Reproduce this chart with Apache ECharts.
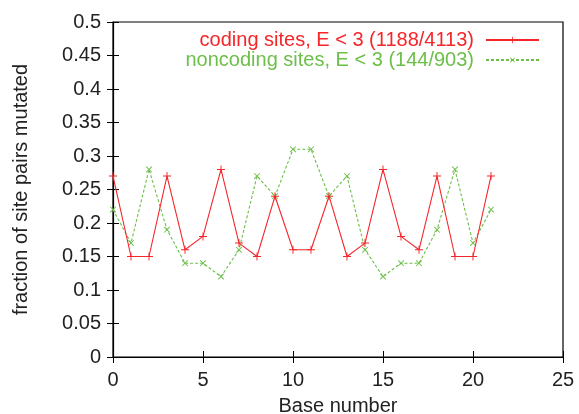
<!DOCTYPE html>
<html>
<head>
<meta charset="utf-8">
<script src="https://cdn.jsdelivr.net/npm/echarts@6/dist/echarts.min.js"></script>
<style>
  html, body { margin: 0; padding: 0; background: #fff; }
  #chart { width: 579px; height: 414px; }
</style>
</head>
<body>
<div id="chart"></div>
<script>
// Base positions along the site pair
const baseNumbers = [0, 1, 2, 3, 4, 5, 6, 7, 8, 9, 10, 11, 12, 13, 14, 15, 16, 17, 18, 19, 20, 21];

// Fraction of site pairs mutated
const codingValues = [0.27, 0.15, 0.15, 0.27, 0.16, 0.18, 0.28, 0.17, 0.15, 0.24, 0.16,
                      0.16, 0.24, 0.15, 0.17, 0.28, 0.18, 0.16, 0.27, 0.15, 0.15, 0.27];
const noncodingValues = [0.22, 0.17, 0.28, 0.19, 0.14, 0.14, 0.12, 0.16, 0.27, 0.24, 0.31,
                         0.31, 0.24, 0.27, 0.16, 0.12, 0.14, 0.14, 0.19, 0.28, 0.17, 0.22];

const codingName = 'coding sites, E < 3 (1188/4113)';
const noncodingName = 'noncoding sites, E < 3 (144/903)';

const RED = '#f5262a';
const GREEN = '#6cbf48';
const FONT = 'Liberation Sans, Arial, Helvetica, sans-serif';
const FS = 20;

// a "+" made of two thin bars; rotated 45 degrees it becomes an "x"
const plusPath = 'path://M0,4.4h10v1.2h-10z M4.4,0h1.2v10h-1.2z';

const pairs = (vals) => baseNumbers.map((b, i) => [b, vals[i]]);

const chart = echarts.init(document.getElementById('chart'), null, { renderer: 'canvas' });

const tickStyle = { show: true, inside: true, length: 6, lineStyle: { color: '#000', width: 1 } };

chart.setOption({
  animation: false,
  backgroundColor: '#fff',
  textStyle: { fontFamily: FONT },
  grid: {
    left: 113, right: 16, top: 22, bottom: 57,
    containLabel: false,
    outerBoundsMode: 'none',
    show: true, borderColor: '#000', borderWidth: 1.2, backgroundColor: 'transparent'
  },
  legend: {
    orient: 'vertical',
    right: 34,
    top: 25,
    align: 'right',
    itemWidth: 53,
    itemHeight: 8,
    itemGap: 0,
    textStyle: { fontSize: FS, fontFamily: FONT, padding: [0, 7, 0, 0] },
    data: [
      { name: codingName, textStyle: { color: RED } },
      { name: noncodingName, textStyle: { color: GREEN } }
    ]
  },
  xAxis: [{
    type: 'value',
    min: 0, max: 25, interval: 5,
    name: 'Base number',
    nameLocation: 'middle',
    nameGap: 39,
    nameTextStyle: { fontSize: FS, color: '#222', fontFamily: FONT },
    axisLine: { show: true, lineStyle: { color: '#000', width: 1.2 } },
    axisTick: tickStyle,
    axisLabel: { fontSize: FS, color: '#222', margin: 13, fontFamily: FONT },
    splitLine: { show: false }
  }, {
    type: 'value',
    position: 'top',
    min: 0, max: 25, interval: 5,
    axisLine: { show: false },
    axisTick: tickStyle,
    axisLabel: { show: false },
    splitLine: { show: false }
  }],
  yAxis: [{
    type: 'value',
    min: 0, max: 0.5, interval: 0.05,
    name: 'fraction of site pairs mutated',
    nameLocation: 'middle',
    nameGap: 82,
    nameTextStyle: { fontSize: FS, color: '#222', fontFamily: FONT },
    axisLine: { show: true, lineStyle: { color: '#000', width: 1.2 } },
    axisTick: tickStyle,
    axisLabel: {
      fontSize: FS, color: '#222', margin: 12, fontFamily: FONT,
      formatter: (v) => String(Math.round(v * 100) / 100)
    },
    splitLine: { show: false }
  }, {
    type: 'value',
    position: 'right',
    min: 0, max: 0.5, interval: 0.05,
    axisLine: { show: false },
    axisTick: tickStyle,
    axisLabel: { show: false },
    splitLine: { show: false }
  }],
  series: [{
    name: codingName,
    type: 'line',
    xAxisIndex: 0, yAxisIndex: 0,
    data: pairs(codingValues),
    symbol: plusPath,
    symbolSize: 8,
    showAllSymbol: true,
    lineStyle: { color: RED, width: 1.1 },
    itemStyle: { color: RED },
    z: 3
  }, {
    name: noncodingName,
    type: 'line',
    xAxisIndex: 0, yAxisIndex: 0,
    data: pairs(noncodingValues),
    symbol: plusPath,
    symbolRotate: 45,
    symbolSize: 8,
    showAllSymbol: true,
    lineStyle: { color: GREEN, width: 1.1, type: [3, 2] },
    itemStyle: { color: GREEN },
    z: 2
  }]
});
</script>
</body>
</html>
